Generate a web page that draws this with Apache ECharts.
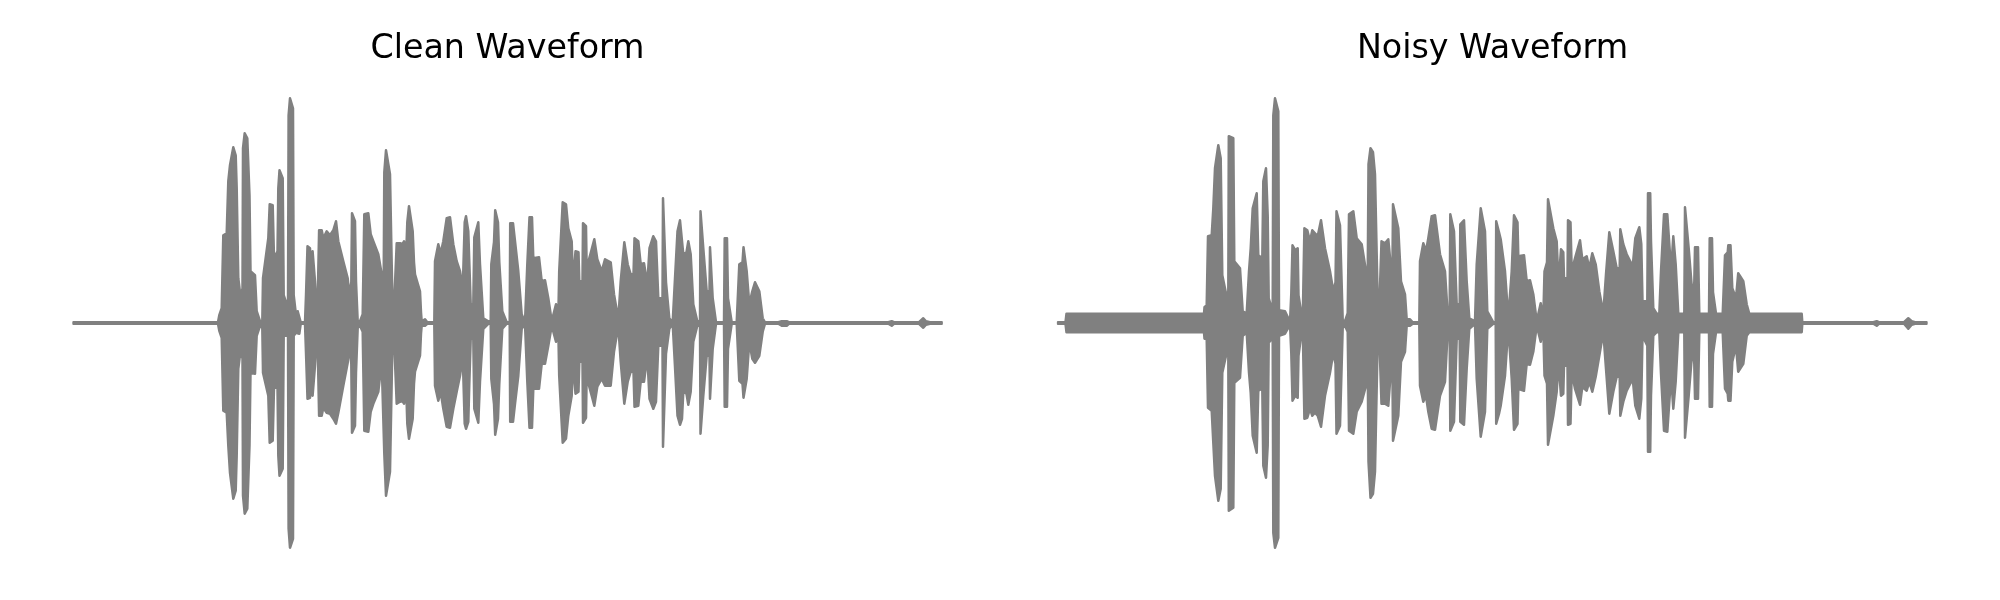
<!DOCTYPE html>
<html>
<head>
<meta charset="utf-8">
<style>html,body{margin:0;padding:0;background:#fff}#c{width:2000px;height:600px}</style>
<script src="https://cdn.jsdelivr.net/npm/echarts@6/dist/echarts.min.js"></script>
</head>
<body>
<div id="c"></div>
<script>
const titles = ['Clean Waveform', 'Noisy Waveform'];
// Each row: time, upper envelope, lower envelope
const cleanEnvelope = [
[1.5,0,0],[91,0,0],[92,1,-1],[93,0,0],[146,0,0],[147.3,7,-7],[149.7,14,-14],[151.3,87,-87],[154.7,89,-89],[156.3,141,-122],[158,157,-149],[161.3,175,-175],[163.7,167,-167],[164.7,134,-132],[166.3,44,-45],[168.7,24,-25],[170.5,34,-35],[171,174,-172],[172.7,189,-190],[175.3,184,-185],[177.5,127,-122],[178.5,51,-49],[183,47,-50],[184.7,11,-12],[188,1,-2],[190.3,1,-4],[191,44,-49],[196.3,84,-72],[197.7,118,-119],[200.7,117,-117],[202,64,-64],[205.5,71,-64],[206.3,134,-132],[207.5,152,-152],[210.7,144,-145],[211.7,27,-12],[216,14,-12],[216.6,207,-205],[218,224,-224],[221,214,-215],[221.7,27,-12],[224,7,-9],[225.7,11,-10],[227.3,9,-10],[228.7,0,0],[233,0,0],[234,27,-29],[235.5,76,-75],[238,74,-74],[239.7,34,-39],[240.6,71,-72],[243,41,-42],[245.3,1,-2],[246.7,1,-2],[247.1,92,-92],[249.7,92,-92],[251.3,84,-84],[254.7,91,-89],[258,87,-90],[261.3,92,-95],[264,101,-100],[266.3,81,-89],[271.3,61,-62],[275.7,44,-39],[277.3,27,-22],[279.3,40,-40],[280,109,-109],[283,101,-102],[284,41,-49],[285.7,1,-4],
[288,1,-2],[290.7,8,-8],[292,8,-8],[292.3,108,-107],[296.3,109,-108],[298.7,88,-88],[301.3,81,-80],[306.3,68,-68],[309.7,48,-38],[311.7,40,-38],[312.3,150,-130],[314,172,-172],[315,172,-172],[318,148,-148],[319.7,58,-58],[320.3,30,-25],[322,14,-13],[324,16,-15],[324.7,79,-80],[328,79,-78],[330.3,78,-77],[332,81,-80],[333,76,-75],[333.7,54,-48],[334.7,54,-48],[335.3,100,-100],[337,116,-115],[340.7,91,-95],[342,60,-60],[343,48,-48],[348,31,-32],[349,10,-10],[349.7,1,-2],[351.3,0,0],[353,3,-2],[355.3,0,0],[362.3,0,0],[363,61,-62],[366.3,78,-77],[368.7,69,-68],[371.3,81,-85],[374.7,104,-103],[378,105,-104],[381.3,78,-85],[384.7,61,-68],[388,51,-52],[389.7,40,-40],[390.3,18,-17],[392,18,-17],[392.7,100,-100],[394,106,-105],[396.3,91,-98],[397.3,60,-60],[398.7,18,-15],[401.3,18,-15],[402.3,85,-85],[406.3,100,-99],[408,58,-58],[411.3,4,-5],[416.3,1,0],[418.7,1,0],[419.3,58,-55],[422,80,-80],[423.2,112,-111],[426,100,-95],[427.3,60,-60],[430.3,11,-5],[434.7,0,0],[437.7,0,0],[438.2,99,-98],[441,99,-98],[443,81,-80],[446.3,51,-52],[449.7,8,-5],[453,0,0],[454.7,0,0],[455.3,58,-58],[457.5,105,-104],[460,105,-104],[461.3,64,-65],[467,65,-65],[469.7,41,-40],[473,42,-40],[476.3,24,-22],[479.7,1,-2],[484,18,-18],[486.3,4,-5],[487.2,51,-52],[488.5,51,-52],[490.7,120,-119],[494,118,-115],[496.3,94,-92],[499.7,81,-72],[501,38,-38],[503,38,-38],[503.5,71,-70],[506.5,70,-68],[507.3,41,-38],[510.5,41,-38],[511,99,-99],[514,96,-94],[514.7,51,-48],[516.5,51,-48],[517,63,-62],[519.7,73,-72],[522.3,83,-82],[525.3,63,-63],[529.7,51,-55],[533,63,-62],[538.7,60,-62],[542,28,-28],[546.3,3,-2],[548.7,41,-38],[552.3,80,-80],[555.7,58,-58],[558.7,48,-48],[561.5,48,-48],[562.5,84,-83],[566.3,81,-82],
[568.7,58,-58],[572,59,-58],[575.3,38,-32],[577.5,74,-75],[581.3,86,-85],[584,81,-78],[586.3,24,-22],[590.5,24,-22],[591,124,-123],[593,124,-123],[594,40,-30],[597.3,4,-5],[600.7,0,0],[603,44,-43],[605.5,91,-92],[608,102,-101],[610,100,-95],[611.3,68,-68],[614.5,70,-70],[616.3,81,-81],[618.7,68,-68],[621.3,18,-18],[625.3,1,-2],[628,1,-2],[628.5,111,-110],[630.5,111,-110],[631.3,74,-72],[634.7,31,-32],[637.5,31,-32],[638,75,-75],[640,75,-75],[640.7,24,-25],[644,0,0],[652,0,0],[652.7,84,-83],[655,84,-83],[656,24,-25],[659.7,0,0],[664.7,0,0],[667.3,58,-57],[670.5,60,-60],[671.5,75,-74],[673.5,75,-74],[674.7,51,-55],[677.3,18,-18],[680.3,31,-35],[683,40,-39],[687.3,31,-32],[690.7,4,-8],[693,0,0],[701,0,0],[703,1,-2],[706.3,0,0],[709.7,1,-2],[714.7,1,-2],[717,0,0],[813,0,0],[814.7,1,-2],[816.3,0,0],[819.7,1,-2],[822,0,0],[847,0,0],[849,1,-1],[851.3,4,-4],[854,1,-1],[858,0,0],[869.7,0,0]
];
const noisyEnvelope = [
[1,0,0],[8.5,0,0],[9.5,8.5,-8.5],[147,8.5,-8.5],[147.5,15,-15],[149.7,17,-15],[151,86,-84],[154.7,87,-87],[156.3,114,-119],[158,154,-152],[161.3,177,-177],[163.7,164,-165],[165.3,47,-49],[169,29,-32],[171.3,30,-30],[171.8,186,-187],[176.3,184,-184],[177.3,61,-59],[183,54,-54],[185.7,11,-12],[189.7,9,-9],[192,51,-49],[193.7,74,-69],[195.7,114,-112],[199.7,129,-129],[201.3,67,-67],[205.3,64,-65],[206.3,141,-142],[209,154,-154],[210.7,107,-122],[211.7,24,-19],[215.7,11,-14],[216.3,207,-209],[218,224,-224],[221.3,211,-214],[222,12,-12],[228,11,-10],[231.3,4,-4],[233,0,0],[234.3,29,-30],[235.5,77,-77],[238.3,72,-72],[240.7,74,-74],[241.5,27,-32],[245.7,0,0],[247,0,0],[247.4,94,-95],[250.3,92,-94],[253,81,-85],[255.3,92,-92],[258,89,-89],[260.7,86,-92],[264,102,-103],[268,74,-72],[273,51,-49],[276.3,31,-29],[278.5,40,-40],[279.5,111,-110],[283,97,-102],[285.7,2,-4],
[288,1,-2],[290.7,9,-8],[291.7,9,-8],[292,108,-107],[296.3,111,-110],[299.7,84,-88],[304.7,78,-78],[309,51,-62],[310.7,40,-38],[311.5,158,-138],[313.5,174,-174],[316,170,-170],[318,148,-148],[320.5,30,-25],[322.3,14,-13],[324,16,-15],[324.5,81,-80],[328,79,-80],[331.3,83,-82],[334,54,-45],[335.5,60,-55],[336,118,-117],[341.3,94,-92],[344,41,-38],[348,28,-28],[349.7,3,-2],[353,3,-2],[355.7,0,0],[362.3,0,0],[363,61,-62],[366.3,79,-78],[369,71,-72],[371.3,84,-88],[374.7,106,-105],[378,107,-106],[383,68,-72],[388,51,-58],[390.3,14,-15],[392.7,14,-15],[393.3,108,-107],[397,91,-98],[399.7,18,-15],[402.7,18,-15],[403.3,98,-98],[407,102,-101],[409.7,41,-45],[412.3,4,-5],[418,1,0],[419.7,58,-55],[423.7,114,-113],[428,91,-88],[430.3,11,-5],[436.3,0,0],[438.7,0,0],[439.2,101,-100],[442,90,-90],[443.7,83,-82],[448,51,-52],[451.3,4,-3],[454.7,51,-55],[457,107,-106],[460.5,100,-100],[461.3,66,-65],[467,67,-67],[469.7,41,-40],[473,42,-41],[476.3,28,-28],[479.7,1,-2],[483.7,19,-18],[486.3,4,-5],[487.5,51,-52],[490,60,-60],[491,123,-121],[496.3,94,-92],[499.7,81,-68],[501.5,38,-38],[503.5,38,-38],[504,73,-72],[506.3,70,-70],[507,44,-42],[510.5,44,-42],[511,102,-101],[513.5,100,-100],[514.7,51,-48],[516.5,51,-48],[518,64,-65],[523,82,-81],[525.3,63,-63],[529.7,66,-67],[532.3,54,-58],[535.3,69,-68],[538.7,58,-53],[542.3,31,-32],[546.3,9,-8],[549,48,-45],[552.3,90,-90],[556.3,71,-68],[559.7,54,-53],[562.7,54,-53],[563.3,93,-92],[566.3,78,-78],[569.7,68,-67],
[570.3,68,-67],[575.7,56,-55],[578.3,84,-82],[582.3,95,-95],[584.3,78,-75],[585.5,21,-12],[590.3,21,-22],[591,129,-128],[593.2,129,-128],[594,81,-72],[596.3,14,-12],[599.7,8.5,-8.5],[602.3,8.5,-8.5],[604,51,-50],[607,108,-107],[610.3,108,-108],[613,68,-68],[615.3,70,-70],[616.3,86,-85],[618.7,58,-58],[621.3,8.5,-8.5],[627.3,8.5,-8.5],[628,115,-114],[630,115,-114],[631.7,74,-72],[635.7,24,-22],[637.3,40,-40],[638,75,-75],[641,75,-75],[642.3,8.5,-8.5],[652,8.5,-8.5],[652.7,84,-83],[655,84,-83],[656,30,-30],[659,8.5,-8.5],[665.7,8.5,-8.5],[668,67,-65],[670.7,70,-70],[671.3,77,-77],[673.5,77,-77],[675.3,34,-38],[679,24,-22],[681.2,49,-48],[683,48,-46],[686.3,41,-40],[689.7,18,-12],[692.3,8.5,-8.5],[744.7,8.5,-8.5],[745.3,0,0],[813,0,0],[814.7,1,-2],[816.3,0,0],[819.7,1,-2],[822,0,0],[847,0,0],[849,1,-1],[851.3,4,-5],[854.7,1,-1],[858,0,0],[869.5,0,0]
];

const COLOR = '#808080';
const panels = [cleanEnvelope, noisyEnvelope];
const lefts = [72, 1057];
const W = 871, AMP = 228;
const PEN = 0.75; // half the thickness of the trace not already covered by the stroke

const series = [];
panels.forEach((rows, i) => {
  [[1, PEN], [2, -PEN]].forEach(([col, pen]) => {
    series.push({
      type: 'line', xAxisIndex: i, yAxisIndex: i,
      data: rows.map(r => [r[0], r[col] + pen]),
      symbol: 'none', smooth: false, silent: true, clip: false,
      sampling: null, animation: false,
      lineStyle: {color: COLOR, width: 2.5, cap: 'round', join: 'round', opacity: 1},
      areaStyle: {color: COLOR, opacity: 1, origin: 0}
    });
  });
});

const chart = echarts.init(document.getElementById('c'), null, {renderer: 'canvas'});
chart.setOption({
  backgroundColor: '#fff',
  animation: false,
  title: titles.map((t, i) => ({
    text: t, left: lefts[i] + W / 2 - 5, top: 28, textAlign: 'center',
    textStyle: {fontFamily: 'DejaVu Sans', fontSize: 33.3, fontWeight: 'normal', color: '#000'}
  })),
  grid: lefts.map(l => ({left: l, width: W, top: 95, height: 456, containLabel: false})),
  xAxis: lefts.map((l, i) => ({type: 'value', gridIndex: i, min: 0, max: W, show: false})),
  yAxis: lefts.map((l, i) => ({type: 'value', gridIndex: i, min: -AMP, max: AMP, show: false})),
  series
});
</script>
</body>
</html>
